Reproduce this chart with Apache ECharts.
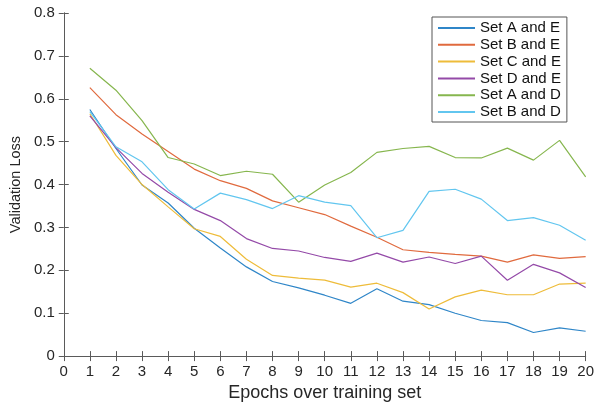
<!DOCTYPE html>
<html><head><meta charset="utf-8">
<script src="https://cdn.jsdelivr.net/npm/echarts@6/dist/echarts.min.js"></script>
<style>html,body{margin:0;padding:0;background:#fff}#c{width:597px;height:407px}</style>
</head><body><div id="c"></div>
<script>
const epochs = [1,2,3,4,5,6,7,8,9,10,11,12,13,14,15,16,17,18,19,20];
const seriesNames = ['Set A and E','Set B and E','Set C and E','Set D and E','Set A and D','Set B and D'];
const setAE = [0.575,0.484,0.399,0.357,0.298,0.252,0.208,0.174,0.159,0.142,0.123,0.157,0.128,0.120,0.100,0.083,0.078,0.055,0.066,0.058];
const setBE = [0.626,0.563,0.518,0.477,0.436,0.409,0.391,0.362,0.346,0.330,0.303,0.277,0.248,0.242,0.237,0.233,0.219,0.236,0.228,0.232];
const setCE = [0.565,0.468,0.400,0.348,0.297,0.279,0.226,0.188,0.182,0.177,0.161,0.170,0.148,0.110,0.138,0.154,0.143,0.143,0.168,0.170];
const setDE = [0.560,0.486,0.426,0.382,0.342,0.316,0.274,0.251,0.245,0.230,0.221,0.240,0.219,0.231,0.216,0.233,0.177,0.214,0.194,0.160];
const setAD = [0.671,0.620,0.549,0.463,0.448,0.421,0.431,0.424,0.359,0.399,0.428,0.475,0.484,0.489,0.463,0.462,0.485,0.457,0.503,0.418];
const setBD = [0.570,0.488,0.453,0.388,0.343,0.380,0.365,0.344,0.374,0.359,0.351,0.276,0.293,0.384,0.389,0.366,0.316,0.323,0.305,0.270];
const allData = [setAE,setBE,setCE,setDE,setAD,setBD];
const colors = ['#2f86c8','#e06a3e','#eebc3a','#944aa8','#86b64e','#62c6ef'];

const chart = echarts.init(document.getElementById('c'));
const axisCol = '#5a5a5a';
const txtCol = '#262626';
const font = 'Liberation Sans, Arial, sans-serif';
chart.setOption({
  animation: false,
  color: colors,
  grid: {left: 63, right: 11, top: 13, bottom: 47, containLabel: false},
  legend: {
    orient: 'vertical', left: 432, top: 17,
    data: seriesNames,
    backgroundColor: '#fff', borderColor: '#555', borderWidth: 1,
    padding: [3.5, 6, 2.5, 5],
    itemWidth: 37, itemHeight: 14, itemGap: 1.8,
    itemStyle: {opacity: 0},
    textStyle: {fontFamily: font, fontSize: 15, color: '#111'}
  },
  xAxis: [{
    type: 'value', min: 0, max: 20, interval: 1,
    name: 'Epochs over training set', nameLocation: 'middle', nameGap: 27,
    nameTextStyle: {fontFamily: font, fontSize: 18, color: txtCol},
    axisLine: {show: true, lineStyle: {color: axisCol, width: 1}},
    axisTick: {show: true, inside: true, length: 5, lineStyle: {color: axisCol}},
    axisLabel: {fontFamily: font, fontSize: 15, color: txtCol, margin: 8},
    splitLine: {show: false}
  },{
    type: 'value', min: 0, max: 20, interval: 1, position: 'top',
    axisLine: {show: true, lineStyle: {color: axisCol, width: 1}},
    axisTick: {show: true, inside: true, length: 5, lineStyle: {color: axisCol}},
    axisLabel: {show: false}, splitLine: {show: false}
  }],
  yAxis: [{
    type: 'value', min: 0, max: 0.8, interval: 0.1,
    name: 'Validation Loss', nameLocation: 'middle', nameGap: 38,
    nameTextStyle: {fontFamily: font, fontSize: 14.5, color: txtCol},
    axisLine: {show: true, lineStyle: {color: axisCol, width: 1}},
    axisTick: {show: true, inside: true, length: 5, lineStyle: {color: axisCol}},
    axisLabel: {fontFamily: font, fontSize: 15, color: txtCol, margin: 9,
      formatter: v => v === 0 ? '0' : v.toFixed(1)},
    splitLine: {show: false}
  },{
    type: 'value', min: 0, max: 0.8, interval: 0.1, position: 'right',
    axisLine: {show: true, lineStyle: {color: axisCol, width: 1}},
    axisTick: {show: true, inside: true, length: 5, lineStyle: {color: axisCol}},
    axisLabel: {show: false}, splitLine: {show: false}
  }],
  series: seriesNames.map((n, i) => ({
    name: n, type: 'line', symbol: 'none', showSymbol: false,
    lineStyle: {width: 1.2, color: colors[i]},
    itemStyle: {color: colors[i]},
    data: epochs.map((e, k) => [e, allData[i][k]])
  }))
});
</script></body></html>
